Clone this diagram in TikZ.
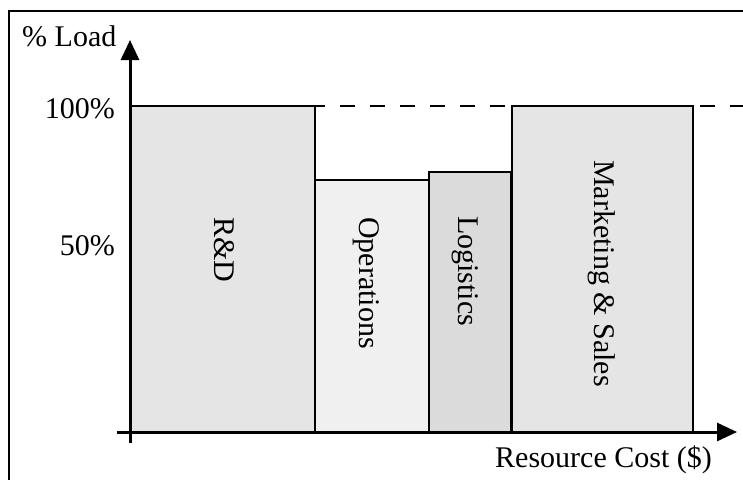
\documentclass[tikz,border=0pt]{standalone}
\usepackage{fontspec}
\setmainfont{Liberation Serif}
\usetikzlibrary{arrows.meta}
\tikzset{
  x=1pt,y=-1pt,
  lbl/.style={inner sep=0pt,font=\fontsize{30}{34}\selectfont},
  bar/.style={draw=black,line width=2pt},
  axis/.style={draw=black,line width=3pt,-{Triangle[length=20pt,width=18pt]}},
  vlabel/.style={lbl,rotate=-90,anchor=base west},
}
\begin{document}
\begin{tikzpicture}
\useasboundingbox (0,0) rectangle (743,479);
\clip (0,0) rectangle (743,479);
\fill[white] (0,0) rectangle (743,479);
\draw[line width=2pt] (9,11) rectangle (760,500);
% dashed 100% line
\coordinate (d0) at (130,106);
\coordinate (d1) at (745,106);
\draw[line width=2pt,dash pattern=on 15pt off 15pt,dash phase=0pt] (d0) -- (d1);
% bars
\draw[bar,fill=black!10] (130,432) rectangle (315,106) node[midway] (rd) {};
\draw[bar,fill=black!6] (315,432) rectangle (429,180) node[midway] (op) {};
\draw[bar,fill=black!14] (429,432) rectangle (511,172) node[midway] (lg) {};
\draw[bar,fill=black!10] (512,432) rectangle (693,106) node[midway] (ms) {};
% labels inside bars
\node[vlabel] (trd) at (214,217) {R\&D};
\node[vlabel] (top) at (359,217) {Operations};
\node[vlabel] (tlg) at (458,216) {Logistics};
\node[vlabel] (tms) at (594,160) {Marketing \& Sales};
% axes
\coordinate (o) at (130,432);
\coordinate (xs) at (117,432);
\coordinate (xe) at (737,432);
\coordinate (ys) at (130,443);
\coordinate (ye) at (130,40);
\draw[axis] (xs) -- (xe);
\draw[axis] (ys) -- (ye);
% axis labels
\node[lbl,anchor=base west] (yl) at (22,46) {\% Load};
\node[lbl,anchor=base east] (t100) at (115,118) {100\%};
\node[lbl,anchor=base east] (t50) at (115,255) {50\%};
\node[lbl,anchor=base west] (xl) at (495,467) {Resource Cost (\$)};
\end{tikzpicture}
\end{document}
